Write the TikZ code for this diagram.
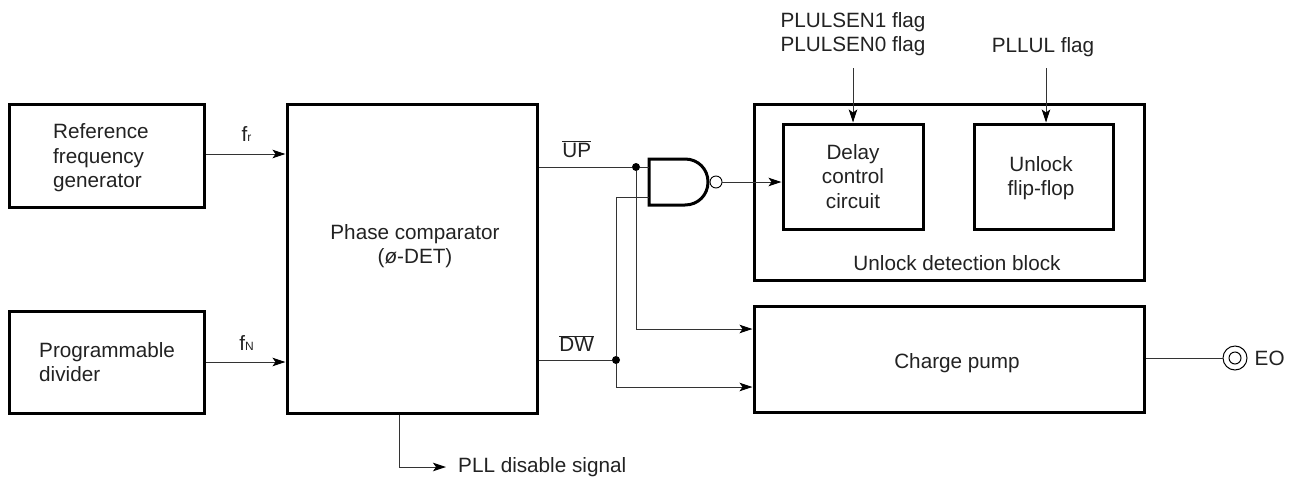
\documentclass[tikz,border=0pt]{standalone}
\usepackage{fontspec}
\setmainfont{Liberation Sans}
\usepackage{tikz}
\usetikzlibrary{arrows.meta,positioning}
\definecolor{labelink}{HTML}{222222}
\definecolor{wireink}{HTML}{333333}
\newcommand{\smallsub}[1]{{\fontsize{12}{14}\selectfont #1}}

\begin{document}
\begin{tikzpicture}[
    x=1pt, y=-1pt,
    every node/.style={font=\fontsize{20.7}{24.5}\selectfont, text=labelink},
    block/.style={rectangle, draw=black, line width=3pt, align=center, inner sep=0pt},
    wire/.style={line width=1pt, color=wireink},
    sigarrow/.style={wire, -{Stealth[length=13pt, width=8.5pt, inset=3pt, color=black]}},
    gateline/.style={line width=3pt, color=black, line join=miter},
    dot/.style={circle, fill=black, inner sep=0pt, minimum size=8pt},
    bubble/.style={circle, draw=black, line width=0.9pt, inner sep=0pt, minimum size=12pt},
    label/.style={inner sep=0pt}
]
    \useasboundingbox (0,0) rectangle (1300,482);

    % --- LEFT SOURCES AND COMPARATOR ---
    \node[block, minimum width=195pt, minimum height=103pt] (reference) at (106.5, 155.5) {};
    \node[label, align=left, anchor=west] (referencetext) at (53, 158) {Reference\\frequency\\generator};
    \node[block, minimum width=195pt, minimum height=102pt] (divider) at (106.5, 362) {};
    \node[label, align=left, anchor=west] (dividertext) at (39, 362) {Programmable\\divider};
    \node[block, minimum width=250pt, minimum height=309pt] (phase) at (412, 258.5) {};
    \node[label, align=center] (phasetext) at (415, 246) {Phase comparator\\(\textit{ø}-DET)};

    % --- RIGHT BLOCKS ---
    \node[block, minimum width=390pt, minimum height=176pt] (unlockblock) at (949, 192) {};
    \node[label] (unlocktext) at (957, 263) {Unlock detection block};
    \node[block, minimum width=140pt, minimum height=105pt] (delay) at (853, 176.5) {Delay\\control\\circuit};
    \node[block, minimum width=139pt, minimum height=105pt] (flipflop) at (1043.5, 176.5) {};
    \node[label, align=center] (flipfloptext) at (1041, 178) {Unlock\\flip-flop};
    \node[block, minimum width=390pt, minimum height=106pt] (pump) at (949, 359) {};
    \node[label] (pumptext) at (957, 363) {Charge pump};

    % --- FLAG INPUTS ---
    \node[label, align=center] (senflags) at (853, 34) {PLULSEN1 flag\\PLULSEN0 flag};
    \node[label] (ulflag) at (1043, 47) {PLLUL flag};
    \coordinate (senstart) at (853, 68);
    \coordinate (ulstart) at (1046, 68);
    \draw[sigarrow] (senstart) -- (senstart |- delay.north);
    \draw[sigarrow] (ulstart) -- (ulstart |- flipflop.north);

    % --- CLOCK INPUTS ---
    \draw[sigarrow] (reference.east |- 0,154) -- (phase.west |- 0,154)
        node[midway, above=12pt, xshift=1pt, label] (fr) {f\smallsub{r}};
    \draw[sigarrow] (divider.east |- 0,362) -- (phase.west |- 0,362)
        node[midway, above=11pt, xshift=1pt, label] (fn) {f\smallsub{N}};

    % --- NAND GATE ---
    \coordinate (nandtop) at (649, 159);
    \coordinate (nandbot) at (649, 205);
    \coordinate (nandup) at (649, 167);
    \coordinate (nanddw) at (649, 197);
    \draw[gateline] (nandtop) -- (nandbot) -- (685, 205)
        .. controls (698, 205) and (708, 195) .. (708, 182)
        .. controls (708, 169) and (698, 159) .. (685, 159) -- cycle;
    \node[bubble] (nandout) at (716, 182) {};
    \draw[sigarrow] (nandout.east) -- (delay.west |- nandout);

    % --- PHASE OUTPUTS ---
    \node[dot] (updot) at (636, 167) {};
    \node[dot] (dwdot) at (616, 360) {};
    \draw[wire] (phase.east |- updot) -- (updot)
        node[pos=0.41, above=9pt, label] (uplabel) {$\overline{\mbox{UP}}$};
    \draw[wire] (updot) -- (nandup);
    \draw[wire] (phase.east |- dwdot) -- (dwdot)
        node[pos=0.52, above=8pt, label] (dwlabel) {$\overline{\mbox{DW}}$};
    \draw[wire] (dwdot) |- (nanddw);
    \draw[sigarrow] (updot) |- (pump.west |- 0,329);
    \draw[sigarrow] (dwdot) |- (pump.west |- 0,387);

    % --- OUTPUT PIN ---
    \node[bubble, minimum size=24pt, line width=1pt] (eopin) at (1235, 358) {};
    \node[bubble, minimum size=12pt, line width=1pt] (eoinner) at (eopin) {};
    \node[label, right=7pt of eopin] (eotext) {EO};
    \draw[wire] (pump.east |- eopin) -- (eopin);

    % --- DISABLE SIGNAL ---
    \node[label, anchor=west] (disable) at (458, 467) {PLL disable signal};
    \draw[sigarrow, shorten >=12pt] (phase.south -| 399,0) |- (disable.west);
\end{tikzpicture}
\end{document}
